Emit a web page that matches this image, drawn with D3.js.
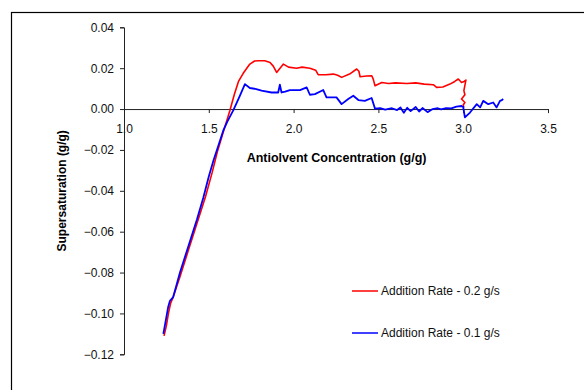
<!DOCTYPE html>
<html>
<head>
<meta charset="utf-8">
<script src="https://cdn.jsdelivr.net/npm/d3@7"></script>
<style>
  body { margin: 0; background: white; }
  svg text { font-family: "Liberation Sans", Arial, sans-serif; }
</style>
</head>
<body>
<div class="container"></div>
<script>
// Data
const seriesNames = ["Addition Rate - 0.2 g/s", "Addition Rate - 0.1 g/s"]
const seriesColors = ["#ff0000", "#0000ff"]

const redX = [1.236, 1.25, 1.262, 1.275, 1.29, 1.33, 1.38, 1.43, 1.48, 1.52, 1.55, 1.59, 1.624, 1.65, 1.675, 1.703, 1.742, 1.77, 1.792, 1.83, 1.861, 1.88, 1.90, 1.94, 1.97, 2.017, 2.05, 2.096, 2.13, 2.145, 2.19, 2.234, 2.26, 2.283, 2.33, 2.372, 2.385, 2.392, 2.43, 2.461, 2.47, 2.48, 2.52, 2.56, 2.60, 2.667, 2.72, 2.77, 2.824, 2.843, 2.88, 2.922, 2.95, 2.971, 2.99, 3.005, 3.016, 3.004, 3.01, 2.99, 3.01, 3.0, 3.004]
const redY = [-0.111, -0.106, -0.1, -0.095, -0.092, -0.082, -0.069, -0.056, -0.043, -0.031, -0.021, -0.010, -0.0008, 0.007, 0.0135, 0.0175, 0.022, 0.0235, 0.0236, 0.0236, 0.0228, 0.021, 0.0179, 0.022, 0.0205, 0.020, 0.0205, 0.020, 0.019, 0.0168, 0.0168, 0.0171, 0.0165, 0.0155, 0.0171, 0.0196, 0.0185, 0.0158, 0.0162, 0.0163, 0.0145, 0.0114, 0.013, 0.0125, 0.0128, 0.0125, 0.0128, 0.0122, 0.0119, 0.0106, 0.0108, 0.0122, 0.0135, 0.0147, 0.013, 0.0135, 0.0142, 0.009, 0.007, 0.0049, 0.0032, 0.002, 0.0008]

const blueX = [1.232, 1.245, 1.26, 1.271, 1.29, 1.33, 1.38, 1.43, 1.468, 1.50, 1.527, 1.56, 1.585, 1.61, 1.645, 1.683, 1.713, 1.742, 1.78, 1.811, 1.87, 1.909, 1.919, 1.929, 1.95, 1.978, 2.038, 2.077, 2.096, 2.126, 2.175, 2.194, 2.253, 2.283, 2.322, 2.352, 2.382, 2.42, 2.46, 2.48, 2.51, 2.54, 2.58, 2.61, 2.63, 2.65, 2.67, 2.69, 2.72, 2.74, 2.76, 2.79, 2.82, 2.85, 2.87, 2.9, 2.93, 2.96, 2.99, 3.0, 3.01, 3.04, 3.08, 3.10, 3.118, 3.148, 3.177, 3.197, 3.217, 3.225, 3.236]
const blueY = [-0.110, -0.104, -0.097, -0.0938, -0.092, -0.080, -0.067, -0.054, -0.0433, -0.033, -0.0253, -0.017, -0.0106, -0.006, -0.0005, 0.0065, 0.0122, 0.0103, 0.0098, 0.009, 0.0081, 0.0081, 0.0119, 0.0081, 0.0085, 0.0093, 0.0093, 0.0106, 0.007, 0.0073, 0.0093, 0.0057, 0.0057, 0.0024, 0.0049, 0.0065, 0.0044, 0.004, 0.0054, 0.0002, 0.0005, -0.0003, 0.0004, -0.0005, 0.0008, -0.0018, 0.0006, -0.001, 0.001, -0.0012, 0.0005, -0.0015, 0.0, 0.0004, -0.0002, 0.0005, 0.0003, 0.0012, 0.0015, 0.001, -0.0041, -0.0017, 0.0024, 0.0008, 0.004, 0.0024, 0.0032, 0.0008, 0.004, 0.0042, 0.0049]

const xTicks = [1.0, 1.5, 2.0, 2.5, 3.0, 3.5]
const yTicks = [0.04, 0.02, 0.00, -0.02, -0.04, -0.06, -0.08, -0.10, -0.12]

const outerWidth = 584
const outerHeight = 390
const margin = {top: 27.3, left: 124, right: 36, bottom: 35.7}

const svg = d3.select(".container")
    .append("svg")
    .attr("width", outerWidth)
    .attr("height", outerHeight)

// Chart area border (runs off the page on right and bottom)
svg.append("rect")
    .attr("x", 11.5)
    .attr("y", 12.5)
    .attr("width", 700)
    .attr("height", 500)
    .attr("fill", "none")
    .attr("stroke", "black")
    .attr("stroke-width", 1.2)

const g = svg.append("g")
    .attr("transform", `translate(${margin.left}, ${margin.top})`)

// Scales
const xScale = d3.scaleLinear()
    .domain([1.0, 3.5])
    .range([0, 424])

const yScale = d3.scaleLinear()
    .domain([-0.12, 0.04])
    .range([327, 0])

// Axes
const xAxis = d3.axisBottom(xScale)
    .tickValues(xTicks)
    .tickSize(4)
    .tickPadding(11)
    .tickFormat(d3.format(".1f"))

const yAxis = d3.axisLeft(yScale)
    .tickValues(yTicks)
    .tickSize(4)
    .tickPadding(6)
    .tickFormat(d3.format(".2f"))

const x = g.append("g")
    .attr("transform", `translate(0, ${yScale(0)})`)
    .call(xAxis)

const y = g.append("g")
    .call(yAxis)

g.selectAll(".domain").attr("stroke", "#222")
g.selectAll(".tick line").attr("stroke", "#222")
g.selectAll(".tick text")
    .attr("font-size", 12)
    .attr("fill", "#111")
    .attr("font-family", "Liberation Sans, Arial, sans-serif")

x.append("text")
    .text("Antiolvent Concentration (g/g)")
    .attr("x", xScale(2.0) + 43)
    .attr("y", 53)
    .attr("text-anchor", "middle")
    .attr("font-size", 12.5)
    .attr("font-weight", "bold")
    .attr("fill", "black")
    .attr("font-family", "Liberation Sans, Arial, sans-serif")

y.append("text")
    .text("Supersaturation (g/g)")
    .attr("transform", `rotate(-90)`)
    .attr("x", -yScale(-0.04))
    .attr("y", -58)
    .attr("text-anchor", "middle")
    .attr("font-size", 12)
    .attr("font-weight", "bold")
    .attr("fill", "black")
    .attr("font-family", "Liberation Sans, Arial, sans-serif")

// Lines
const line = d3.line()
    .x(d => xScale(d[0]))
    .y(d => yScale(d[1]))

const redData = d3.zip(redX, redY)
const blueData = d3.zip(blueX, blueY)

g.append("path")
    .datum(redData)
    .attr("fill", "none")
    .attr("stroke", seriesColors[0])
    .attr("stroke-width", 1.6)
    .attr("stroke-linejoin", "round")
    .attr("d", line)

g.append("path")
    .datum(blueData)
    .attr("fill", "none")
    .attr("stroke", seriesColors[1])
    .attr("stroke-width", 1.8)
    .attr("stroke-linejoin", "round")
    .attr("d", line)

// Legend
const legend = svg.append("g")
    .attr("transform", "translate(352, 291)")

seriesNames.forEach((name, i) => {
    const row = legend.append("g")
        .attr("transform", `translate(0, ${i * 42})`)
    row.append("line")
        .attr("x1", 0)
        .attr("x2", 26)
        .attr("stroke", seriesColors[i])
        .attr("stroke-width", 1.5)
    row.append("text")
        .text(name)
        .attr("x", 29)
        .attr("dy", "0.35em")
        .attr("font-size", 12)
        .attr("fill", "#111")
})
</script>
</body>
</html>
